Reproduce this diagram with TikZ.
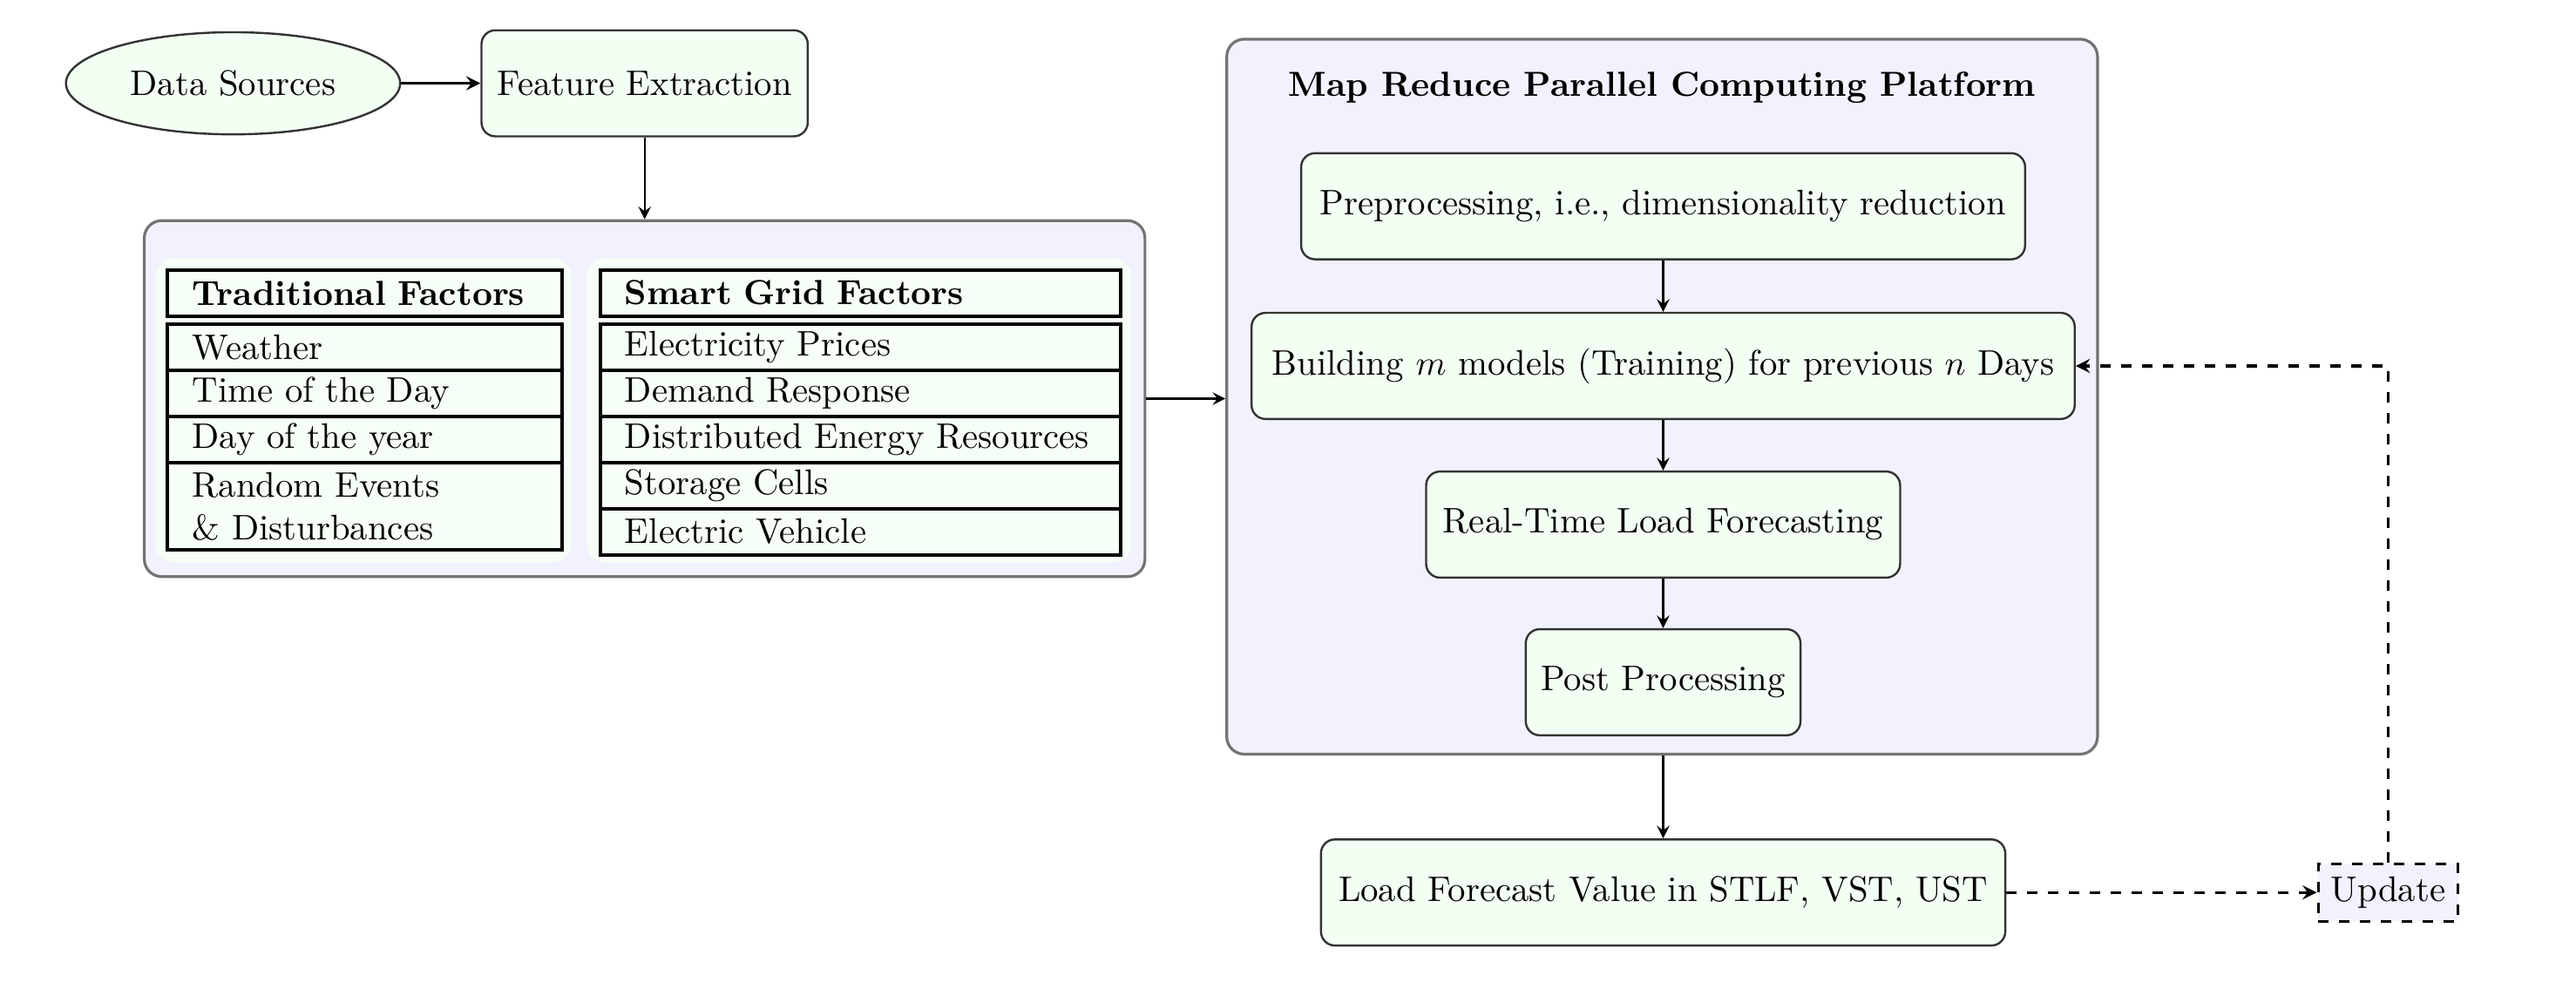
\documentclass[tikz,border=0pt]{standalone}
\usetikzlibrary{positioning,shapes.geometric,arrows}

\tikzset{
  blk/.style={draw=black!80, semithick, fill=green!5, rounded corners=4pt, minimum height=1.07cm, align=center},
  grp/.style={draw=black!55, thick, fill=blue!5, rounded corners=5pt},
  pnl/.style={fill=green!4, rounded corners=5pt},
  cell/.style={draw, line width=1pt, fill=green!4, anchor=north west, minimum height=0.465cm,
    inner xsep=0.25cm, inner ysep=0pt, outer sep=0pt, align=left},
  tcell/.style={cell, text width=3.48cm},
  scell/.style={cell, text width=4.75cm},
}

\begin{document}
\begin{tikzpicture}[>=stealth, font=\fontsize{10.2}{12.3}\selectfont]
\useasboundingbox (0,0) rectangle (25.975,-9.965);

% left group
\node[grp, minimum width=10.09cm, minimum height=3.59cm] (lb) at (6.50,-4.02) {};
\fill[pnl] (1.57,-2.61) rectangle (5.76,-5.67);
\fill[pnl] (5.92,-2.61) rectangle (11.41,-5.67);

\node[tcell, minimum height=0.47cm, font=\bfseries] (th) at (1.69,-2.72) {Traditional Factors};
\node[tcell] (t1) at (1.69,-3.27) {Weather};
\node[tcell, below=0pt of t1] (t2) {Time of the Day};
\node[tcell, below=0pt of t2] (t3) {Day of the year};
\node[tcell, below=0pt of t3, minimum height=0.88cm] (t4) {Random Events\\\& Disturbances};

\node[scell, minimum height=0.47cm, font=\bfseries] (sh) at (6.05,-2.72) {Smart Grid Factors};
\node[scell] (s1) at (6.05,-3.27) {Electricity Prices};
\node[scell, below=0pt of s1] (s2) {Demand Response};
\node[scell, below=0pt of s2] (s3) {Distributed Energy Resources};
\node[scell, below=0pt of s3] (s4) {Storage Cells};
\node[scell, below=0pt of s4] (s5) {Electric Vehicle};

% top row
\node[ellipse, draw=black!80, semithick, fill=green!5, minimum width=3.37cm, minimum height=1.03cm] (ds) at (2.35,-0.84) {Data Sources};
\node[blk, minimum width=3.29cm] (fe) at (6.50,-0.84) {Feature Extraction};

% map reduce platform
\node[grp, minimum width=8.78cm, minimum height=7.21cm] (rb) at (16.76,-4.00) {};
\node[font=\bfseries, below=0.22cm of rb.north] (ttl) {Map Reduce Parallel Computing Platform};
\node[blk, minimum width=7.30cm] (pre) at (16.77,-2.08) {Preprocessing, i.e., dimensionality reduction};
\node[blk, minimum width=8.30cm] (bld) at (16.77,-3.69) {Building $m$ models (Training) for previous $n$ Days};
\node[blk, minimum width=4.78cm] (rt) at (16.77,-5.29) {Real-Time Load Forecasting};
\node[blk, minimum width=2.77cm] (pp) at (16.77,-6.88) {Post Processing};

\node[blk, minimum width=6.90cm] (lf) at (16.77,-9.00) {Load Forecast Value in STLF, VST, UST};
\node[draw, dashed, thick, fill=blue!5, minimum width=1.41cm, minimum height=0.58cm, inner sep=1pt] (up) at (24.08,-9.00) {Update};

\draw[thick, ->] (ds) -- (fe);
\draw[semithick, ->] (fe) -- (lb);
\draw[semithick, ->] (lb.east) -- (lb.east -| rb.west);
\draw[semithick, ->] (pre) -- (bld);
\draw[semithick, ->] (bld) -- (rt);
\draw[semithick, ->] (rt) -- (pp);
\draw[semithick, ->] (rb.south -| lf.north) -- (lf);
\draw[thick, dashed, ->] (lf) -- (up);
\draw[thick, dashed, ->] (up.north) |- (bld.east);
\end{tikzpicture}
\end{document}
